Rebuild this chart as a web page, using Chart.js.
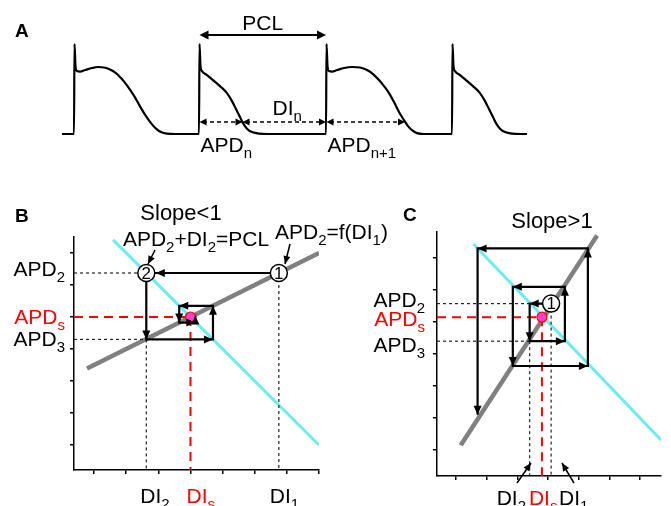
<!DOCTYPE html>
<html>
<head>
<meta charset="utf-8">
<script src="https://cdn.jsdelivr.net/npm/chart.js@4.4.0/dist/chart.umd.min.js"></script>
<style>
    html, body { margin: 0; padding: 0; background: #fff; }
    #wrap { position: relative; width: 671px; height: 506px; }
    #wrap canvas { position: absolute; left: 0; top: 0; }
</style>
</head>
<body>
<div id="wrap">
    <canvas id="chartA" width="671" height="506"></canvas>
    <canvas id="chartB" width="671" height="506"></canvas>
    <canvas id="chartC" width="671" height="506"></canvas>
</div>
<script>
// ---------- Painel A: potencial de acção (ms, mV) ----------
const apTime = [0, 24, 25, 27, 30, 36, 46, 60, 72, 84, 96, 108, 118, 128, 138, 148, 158, 168, 178, 188, 198, 210, 226, 274,
                275, 277, 280, 290, 302, 316, 330, 340, 348, 356, 362, 370, 380, 394, 412, 528,
                529, 531, 534, 540, 550, 564, 580, 596, 610, 622, 634, 644, 654, 664, 674, 684, 692, 700, 710, 724, 780,
                781, 783, 786, 796, 808, 822, 836, 846, 854, 862, 868, 876, 886, 900, 918, 930];
const apVolt = [-85, -85, 30, 1.8, -4.6, -5.2, -3.3, -0.7, 0.6, -0.1, -2.6, -7.1, -13.5, -21.2, -30.2, -40.4, -51.9, -62.2, -71.1, -78.2, -82.6, -84.6, -85, -85,
                30, 1.8, -4.6, -9.7, -16.1, -23.8, -32.7, -43.0, -53.2, -63.4, -71.1, -78.2, -82.6, -84.6, -85, -85,
                30, 1.8, -4.6, -5.2, -3.3, -0.7, 0.6, -0.1, -3.3, -8.4, -16.1, -23.8, -32.7, -44.2, -57.0, -67.3, -75.0, -80.1, -83.9, -85, -85,
                30, 1.8, -4.6, -9.7, -16.1, -23.8, -32.7, -43.0, -53.2, -63.4, -71.1, -78.2, -82.6, -84.6, -85, -85];
const pclRange = [275, 528];
const pclLevel = 41.5;
const intervalNames = ['APD', 'DI', 'APD'];
const intervalSubs = ['n', 'n', 'n+1'];
const intervalStart = [275, 361, 529];
const intervalEnd = [361, 528, 686];
const intervalLevel = -69.7;

// ---------- Painel B: inclinação < 1 ----------
const bTickX = [100, 120, 140, 160, 180, 200, 220, 240];
const bTickY = [100, 120, 140, 160, 180, 200, 220];
const bRestDI = [95.6, 240];
const bRestAPD = [147.8, 220];
const bLineDI = [111.8, 240];
const bLineAPD = [228.2, 100];
const bCobDI = [215, 132.5, 132.5, 174, 174, 153, 153, 163, 163];
const bCobAPD = [207.5, 207.5, 166, 166, 187, 187, 176.5, 176.5, 181];
const bDI = [215, 132.5];      // DI1, DI2
const bAPD = [207.5, 166];     // APD2, APD3
const bSteady = [160, 180];    // DIs, APDs

// ---------- Painel C: inclinação > 1 ----------
const cTickX = [100, 120, 140, 160, 180, 200, 220];
const cTickY = [100, 120, 140, 160, 180, 200, 220];
const cRestDI = [103, 192];
const cRestAPD = [103, 234];
const cLineDI = [111.25, 233.75];
const cLineAPD = [228.75, 106.25];
const cCobDI = [162, 148, 148, 171, 171, 137, 137, 186, 186, 114, 114];
const cCobAPD = [191.5, 191.5, 168, 168, 202, 202, 152.5, 152.5, 226, 226, 122];
const cDI = [162, 148];        // DI1, DI2
const cAPD = [191.5, 168];     // APD2, APD3
const cSteady = [156, 183];    // DIs, APDs

const FONT = '"Liberation Sans", Arial, sans-serif';
const BLACK = '#000';
const RED = '#ff0000';
const FS = 21;

// Texto com subscritos: parts = [[texto, subscrito?], ...]
function richText(ctx, x, base, parts, align, color, size) {
    size = size || FS;
    const sub = Math.round(size * 0.7);
    const widths = parts.map(p => {
        ctx.font = (p[1] ? sub : size) + 'px ' + FONT;
        return ctx.measureText(p[0]).width;
    });
    const total = widths.reduce((a, b) => a + b, 0);
    let cx = align === 'right' ? x - total : align === 'center' ? x - total / 2 : x;
    ctx.fillStyle = color;
    ctx.textAlign = 'left';
    ctx.textBaseline = 'alphabetic';
    parts.forEach((p, i) => {
        ctx.font = (p[1] ? sub : size) + 'px ' + FONT;
        ctx.fillText(p[0], cx, base + (p[1] ? 6 : 0));
        cx += widths[i];
    });
}

function boldLetter(ctx, text, x, base) {
    ctx.font = 'bold 19px ' + FONT;
    ctx.fillStyle = BLACK;
    ctx.textAlign = 'left';
    ctx.textBaseline = 'alphabetic';
    ctx.fillText(text, x, base);
}

function arrowHead(ctx, x0, y0, x1, y1, len, half) {
    const a = Math.atan2(y1 - y0, x1 - x0);
    const c = Math.cos(a), s = Math.sin(a);
    ctx.beginPath();
    ctx.moveTo(x1, y1);
    ctx.lineTo(x1 - len * c + half * s, y1 - len * s - half * c);
    ctx.lineTo(x1 - len * c - half * s, y1 - len * s + half * c);
    ctx.closePath();
    ctx.fill();
}

function pointer(ctx, x0, y0, x1, y1) {
    ctx.setLineDash([]);
    ctx.lineWidth = 1.5;
    ctx.strokeStyle = BLACK;
    ctx.fillStyle = BLACK;
    ctx.beginPath();
    ctx.moveTo(x0, y0);
    ctx.lineTo(x1, y1);
    ctx.stroke();
    arrowHead(ctx, x0, y0, x1, y1, 8, 3.5);
}

function doubleArrow(ctx, xa, xb, py, width, dash, len, half) {
    ctx.strokeStyle = BLACK;
    ctx.fillStyle = BLACK;
    ctx.lineWidth = width;
    ctx.setLineDash(dash);
    ctx.beginPath();
    ctx.moveTo(xa + len * 0.5, py);
    ctx.lineTo(xb - len * 0.5, py);
    ctx.stroke();
    ctx.setLineDash([]);
    arrowHead(ctx, xb, py, xa, py, len, half);
    arrowHead(ctx, xa, py, xb, py, len, half);
}

// Linha (dataset) a partir de dois arrays
function seg(xs, ys, color, width, dash) {
    return {
        data: xs.map((v, i) => ({ x: v, y: ys[i] })),
        showLine: true,
        borderColor: color,
        borderWidth: width,
        borderDash: dash || [],
        pointRadius: 0,
        tension: 0,
        fill: false
    };
}

function axis(min, max, ticks) {
    return {
        type: 'linear',
        min: min,
        max: max,
        grid: { display: true, drawOnChartArea: false, drawTicks: true, tickLength: 4, color: BLACK, lineWidth: 1.5 },
        border: { display: true, color: BLACK, width: 1.5 },
        ticks: { display: false },
        afterBuildTicks: s => { s.ticks = ticks.map(v => ({ value: v })); }
    };
}

// ---------- Painel A ----------
const panelAPlugin = {
    id: 'panelA',
    afterDatasetsDraw(chart) {
        const { ctx, scales: { x, y } } = chart;
        ctx.save();
        boldLetter(ctx, 'A', 15, 37);

        const pa = x.getPixelForValue(pclRange[0]);
        const pb = x.getPixelForValue(pclRange[1]);
        const py = y.getPixelForValue(pclLevel);
        doubleArrow(ctx, pa, pb, py, 2, [], 9, 4.5);
        richText(ctx, (pa + pb) / 2, py - 5, [['PCL']], 'center', BLACK);

        const iy = y.getPixelForValue(intervalLevel);
        intervalNames.forEach((name, i) => {
            const xa = x.getPixelForValue(intervalStart[i]);
            const xb = x.getPixelForValue(intervalEnd[i]);
            doubleArrow(ctx, xa, xb, iy, 1.5, [4, 3], 7, 3.5);
            if (name === 'DI') {
                richText(ctx, (xa + xb) / 2 + 3, iy - 7, [[name], [intervalSubs[i], 1]], 'center', BLACK);
            } else {
                richText(ctx, xa + 1, iy + 30, [[name], [intervalSubs[i], 1]], 'left', BLACK);
            }
        });
        ctx.restore();
    }
};

new Chart(document.getElementById('chartA'), {
    type: 'line',
    data: {
        datasets: [{
            data: apTime.map((t, i) => ({ x: t, y: apVolt[i] })),
            borderColor: BLACK,
            borderWidth: 2.2,
            pointRadius: 0,
            cubicInterpolationMode: 'monotone',
            fill: false
        }]
    },
    options: {
        responsive: false,
        animation: false,
        events: [],
        layout: { padding: { left: 0, right: 0, top: 0, bottom: 336 } },
        scales: {
            x: { type: 'linear', display: false, min: -124, max: 1218 },
            y: { type: 'linear', display: false, min: -131, max: 86.2 }
        },
        plugins: { legend: { display: false }, tooltip: { enabled: false } }
    },
    plugins: [panelAPlugin]
});

// ---------- Painéis B e C ----------
function diagramPlugin(spec) {
    return {
        id: 'diagram' + spec.name,
        afterDatasetsDraw(chart) {
            const { ctx, chartArea, scales: { x, y } } = chart;
            ctx.save();

            // setas do "cobweb"
            const pts = spec.cobDI.map((d, i) => [x.getPixelForValue(d), y.getPixelForValue(spec.cobAPD[i])]);
            const circ = spec.circles.map(c => [x.getPixelForValue(c[0]), y.getPixelForValue(c[1]), c[2]]);
            ctx.fillStyle = BLACK;
            for (let i = 1; i < pts.length; i++) {
                const [x0, y0] = pts[i - 1];
                let [x1, y1] = pts[i];
                circ.forEach(c => {
                    if (Math.hypot(c[0] - x1, c[1] - y1) < 1) {
                        const d = Math.hypot(x1 - x0, y1 - y0);
                        x1 -= (x1 - x0) / d * 9.5;
                        y1 -= (y1 - y0) / d * 9.5;
                    }
                });
                arrowHead(ctx, x0, y0, x1, y1, 9, 4);
            }

            // números nos círculos
            ctx.font = '17px ' + FONT;
            ctx.fillStyle = BLACK;
            ctx.textAlign = 'center';
            ctx.textBaseline = 'middle';
            circ.forEach(c => ctx.fillText(c[2], c[0], c[1] + 1));

            // rótulos do eixo y
            spec.yLabels.forEach(l => {
                richText(ctx, chartArea.left - spec.yGap, y.getPixelForValue(l.v) + l.dy + 7.5, l.parts, 'right', l.color);
            });
            // rótulos do eixo x
            spec.xLabels.forEach(l => {
                richText(ctx, x.getPixelForValue(l.v) + l.dx, chartArea.bottom + spec.xDrop, l.parts, 'left', l.color);
            });

            spec.notes.forEach(n => richText(ctx, n.x, n.base, n.parts, n.align, BLACK));
            spec.pointers.forEach(p => pointer(ctx, p[0], p[1], p[2], p[3]));

            richText(ctx, spec.title.x, spec.title.base, [[spec.title.text]], 'center', BLACK, 22);
            boldLetter(ctx, spec.name, spec.letter.x, spec.letter.base);
            ctx.restore();
        }
    };
}

// ordem: o primeiro dataset fica por cima
function diagramDatasets(spec, restDI, restAPD, lineDI, lineAPD, dis, apds, steady, xMin, yMin) {
    const dash = [3, 3];
    const redDash = [9, 6];
    return [
        {
            data: [{ x: steady[0], y: steady[1] }],
            showLine: false, pointRadius: 5, pointBackgroundColor: '#ff3fd0',
            pointBorderColor: RED, pointBorderWidth: 1.2
        },
        {
            data: spec.circles.map(c => ({ x: c[0], y: c[1] })),
            showLine: false, pointRadius: 8.5,
            pointBackgroundColor: '#fff', pointBorderColor: BLACK, pointBorderWidth: 1.5
        },
        seg(spec.cobDI, spec.cobAPD, BLACK, 2.2),
        seg([steady[0], steady[0]], [steady[1], yMin], RED, 2, redDash),
        seg([xMin, steady[0]], [steady[1], steady[1]], RED, 2, redDash),
        seg([xMin, dis[0]], [apds[0], apds[0]], '#222', 1.2, dash),
        seg([xMin, dis[1]], [apds[1], apds[1]], '#222', 1.2, dash),
        seg([dis[1], dis[1]], [apds[1], yMin], '#222', 1.2, dash),
        seg([dis[0], dis[0]], [apds[0], yMin], '#222', 1.2, dash),
        seg(restDI, restAPD, '#808080', 4.5),
        seg(lineDI, lineAPD, '#6cecf0', 3)
    ];
}

function makeDiagram(canvasId, spec, datasets, xMin, xMax, yMin, yMax, tickX, tickY, padding) {
    new Chart(document.getElementById(canvasId), {
        type: 'scatter',
        data: { datasets: datasets },
        options: {
            responsive: false,
            animation: false,
            events: [],
            layout: { padding: padding },
            scales: { x: axis(xMin, xMax, tickX), y: axis(yMin, yMax, tickY) },
            plugins: { legend: { display: false }, tooltip: { enabled: false } }
        },
        plugins: [diagramPlugin(spec)]
    });
}

const specB = {
    name: 'B',
    cobDI: bCobDI, cobAPD: bCobAPD,
    circles: [[bDI[0], bAPD[0], '1'], [bDI[1], bAPD[0], '2']],
    yGap: 9,
    yLabels: [
        { parts: [['APD'], ['2', 1]], v: bAPD[0], dy: -5, color: BLACK },
        { parts: [['APD'], ['s', 1]], v: bSteady[1], dy: -1, color: RED },
        { parts: [['APD'], ['3', 1]], v: bAPD[1], dy: -1, color: BLACK }
    ],
    xDrop: 32.5,
    xLabels: [
        { parts: [['DI'], ['2', 1]], v: bDI[1], dx: -6, color: BLACK },
        { parts: [['DI'], ['s', 1]], v: bSteady[0], dx: -4, color: RED },
        { parts: [['DI'], ['1', 1]], v: bDI[0], dx: -9, color: BLACK }
    ],
    notes: [
        { parts: [['APD'], ['2', 1], ['+DI'], ['2', 1], ['=PCL']], x: 196, base: 245.5, align: 'center' },
        { parts: [['APD'], ['2', 1], ['=f(DI'], ['1', 1], [')']], x: 275, base: 239, align: 'left' }
    ],
    pointers: [[155, 250, 148, 264], [290, 244, 285, 264]],
    title: { text: 'Slope<1', x: 181, base: 220 },
    letter: { x: 15, base: 222 }
};

const specC = {
    name: 'C',
    cobDI: cCobDI, cobAPD: cCobAPD,
    circles: [[cDI[0], cAPD[0], '1']],
    yGap: 12,
    yLabels: [
        { parts: [['APD'], ['2', 1]], v: cAPD[0], dy: -4, color: BLACK },
        { parts: [['APD'], ['s', 1]], v: cSteady[1], dy: 1, color: RED },
        { parts: [['APD'], ['3', 1]], v: cAPD[1], dy: 3, color: BLACK }
    ],
    xDrop: 28.5,
    xLabels: [
        { parts: [['DI'], ['2', 1]], v: cDI[1], dx: -33, color: BLACK },
        { parts: [['DI'], ['s', 1]], v: cSteady[0], dx: -13, color: RED },
        { parts: [['DI'], ['1', 1]], v: cDI[0], dx: 8, color: BLACK }
    ],
    notes: [],
    pointers: [[517, 483, 531, 463], [574, 483, 562, 463]],
    title: { text: 'Slope>1', x: 552, base: 228 },
    letter: { x: 403, base: 221 }
};

makeDiagram('chartB', specB,
    diagramDatasets(specB, bRestDI, bRestAPD, bLineDI, bLineAPD, bDI, bAPD, bSteady, 87.5, 84.4),
    87.5, 240, 84.4, 230, bTickX, bTickY, { left: 70, right: 352, top: 237, bottom: 32 });

makeDiagram('chartC', specC,
    diagramDatasets(specC, cRestDI, cRestAPD, cLineDI, cLineAPD, cDI, cAPD, cSteady, 87.5, 83.75),
    87.5, 233.75, 83.75, 236.25, cTickX, cTickY, { left: 433, right: 0, top: 232, bottom: 26 });
</script>
</body>
</html>
